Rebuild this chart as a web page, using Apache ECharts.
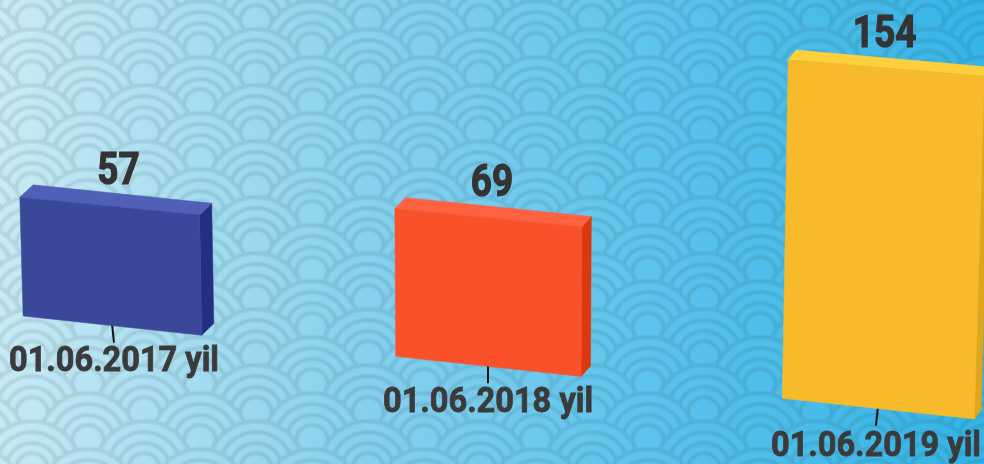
<!DOCTYPE html>
<html>
<head>
<meta charset="utf-8">
<style>html,body{margin:0;padding:0;background:#fff}#c{width:984px;height:464px}</style>
<script src="https://cdn.jsdelivr.net/npm/echarts@6/dist/echarts.min.js"></script>
</head>
<body>
<div id="c"></div>
<script>
var categories = ['01.06.2017 yil', '01.06.2018 yil', '01.06.2019 yil'];
var values = [57, 69, 154];
var frontColors = ['#3B4799', '#F9512A', '#F7BA2A'];
var topColors = ['#5060B6', '#FF6240', '#FFD03D'];
var sideColors = ['#22307F', '#DD3711', '#E0A51A'];

// seigaiha tile
function makeTile() {
  var W = 112, H = 56, R = 48, radii = [48, 37, 26, 16];
  var cv = document.createElement('canvas');
  cv.width = W; cv.height = H;
  var c = cv.getContext('2d');
  var row = 0;
  for (var y = 1 + R - 56 * 4; y < H + R + 56; y += 28, row++) {
    var off = row % 2 ? 56 : 0;
    for (var x = 88 + off - 112 * 2; x < W + 112; x += 112) {
      c.globalCompositeOperation = 'destination-out';
      c.fillStyle = '#000';
      c.beginPath(); c.arc(x, y, R + 2, 0, Math.PI * 2); c.fill();
      c.globalCompositeOperation = 'source-over';
      radii.forEach(function (r) {
        c.beginPath(); c.arc(x, y, r, 0, Math.PI * 2);
        c.strokeStyle = 'rgba(30,50,60,0.04)'; c.lineWidth = 6; c.stroke();
        c.strokeStyle = 'rgba(30,50,60,0.07)'; c.lineWidth = 3.2; c.stroke();
      });
    }
  }
  return cv;
}

// plane-to-page projection of the tilted chart
function warpX(X) { var w = (X - 164) / 328; return 112 + 369 * w + 7 * w * w; }
function project(X, Y, Y0) {
  var u = warpX(X), h = (Y0 - Y) * (2.08 + 0.00015 * u) / 2.1;
  return [u + h * (u - 490) * 6e-5, 316 + 0.1083 * (u - 23) - h];
}
function depth(p) { return [13.5 - 0.007 * p[0], -(12.5 - 0.0035 * p[0])]; }
function back(p) { var d = depth(p); return [p[0] + d[0], p[1] + d[1]]; }

function renderItem(params, api) {
  var i = api.value(0), v = api.value(1);
  var c0 = api.coord([i, 0]), c1 = api.coord([i, v]);
  var bw = api.size([1, 0])[0] * 0.484, Y0 = c0[1];
  var bl = project(c0[0] - bw / 2, Y0, Y0), br = project(c0[0] + bw / 2, Y0, Y0);
  var tl = project(c0[0] - bw / 2, c1[1], Y0), tr = project(c0[0] + bw / 2, c1[1], Y0);
  var base = project(c0[0], Y0, Y0), top = project(c0[0], c1[1], Y0);
  var leanX = -(base[0] - 490) / 190;
  var lineEnd = [base[0] + leanX, base[1] + 17];
  function poly(pts, fill, z2) {
    return { type: 'polygon', z2: z2, shape: { points: pts }, style: { fill: fill, stroke: fill, lineWidth: 0.5 } };
  }
  return {
    type: 'group',
    children: [
      { type: 'line', z2: 0, shape: { x1: base[0], y1: base[1] - 2, x2: lineEnd[0], y2: lineEnd[1] }, style: { stroke: '#111', lineWidth: 2 } },
      poly([tr, br, back(br), back(tr)], sideColors[i], 1),
      poly([tl, tr, back(tr), back(tl)], topColors[i], 1),
      poly([tl, tr, br, bl], frontColors[i], 2),
      { type: 'text', z2: 3, x: top[0] + 4 + (490 - top[0]) * 0.0135, y: top[1] - 33 + (i === 2 ? 1 : 0), scaleX: 0.84,
        style: { text: String(v), fill: '#333', stroke: '#333', lineWidth: 1.2, fontSize: 44, fontWeight: 'bold', fontFamily: 'Roboto', align: 'center', verticalAlign: 'middle' } },
      { type: 'text', z2: 3, x: lineEnd[0], y: base[1] + 37 + (i === 2 ? 2 : 0), scaleX: 0.93,
        style: { text: categories[i], fill: '#3a3a3a', stroke: '#3a3a3a', lineWidth: 0.8, fontSize: 35, fontWeight: 'bold', fontFamily: 'Roboto', align: 'center', verticalAlign: 'middle' } }
    ]
  };
}

var chart = echarts.init(document.getElementById('c'), null, { renderer: 'canvas' });
chart.setOption({
  animation: false,
  graphic: [
    { type: 'rect', z: 0, shape: { x: 0, y: 0, width: 984, height: 464 }, silent: true,
      style: { fill: new echarts.graphic.LinearGradient(0, 0, 1, 0.12, [
        { offset: 0, color: '#CBEBF5' },
        { offset: 0.22, color: '#A4DCF0' },
        { offset: 0.4, color: '#85D0EE' },
        { offset: 0.69, color: '#5BC3ED' },
        { offset: 1, color: '#36B4E6' }
      ]) } },
    { type: 'rect', z: 1, shape: { x: 0, y: 0, width: 984, height: 464 }, silent: true,
      style: { fill: { image: makeTile(), repeat: 'repeat' } } }
  ],
  grid: { left: 0, right: 0, top: 64, height: 336, containLabel: false },
  xAxis: { type: 'category', data: categories, show: false },
  yAxis: { type: 'value', min: 0, max: 160, show: false },
  series: [{ type: 'custom', z: 5, clip: false, renderItem: renderItem,
    encode: { x: 0, y: 1 },
    data: values.map(function (v, i) { return [i, v]; }) }]
});
</script>
</body>
</html>
